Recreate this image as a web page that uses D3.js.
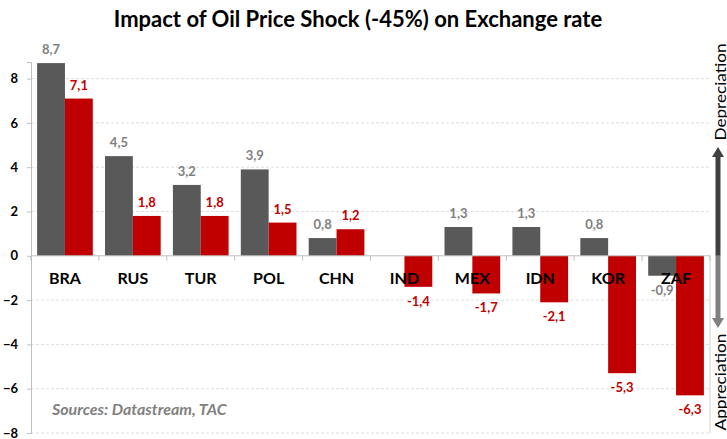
<!DOCTYPE html>
<html>
<head>
<meta charset="utf-8">
<script src="https://cdn.jsdelivr.net/npm/d3@7"></script>
<style>
  body { margin: 0; background: #fff; }
  svg { display: block; font-family: Lato, "Open Sans", sans-serif; }
</style>
</head>
<body>
<div id="chart"></div>
<script>
const countries = ["BRA", "RUS", "TUR", "POL", "CHN", "IND", "MEX", "IDN", "KOR", "ZAF"];
const grayValues = [8.7, 4.5, 3.2, 3.9, 0.8, 0, 1.3, 1.3, 0.8, -0.9];
const redValues = [7.1, 1.8, 1.8, 1.5, 1.2, -1.4, -1.7, -2.1, -5.3, -6.3];
const yTicks = [-8, -6, -4, -2, 0, 2, 4, 6, 8];

const width = 727, height = 439;
const plot = { left: 31, right: 710, top: 62, bottom: 433 };

const svg = d3.select("#chart").append("svg").attr("width", width).attr("height", height);

const x = d3.scaleBand().domain(countries).range([plot.left, plot.right]).paddingInner(0.18).paddingOuter(0.09);
const sub = d3.scaleBand().domain(["gray", "red"]).range([0, x.bandwidth()]);
const y = d3.scaleLinear().domain([-8, 8.75]).range([plot.bottom, plot.top]);

const fmt = v => String(v.toFixed(1)).replace(".", ",");

// gridlines
svg.append("g").selectAll("line").data(yTicks.filter(d => d !== 0)).join("line")
  .attr("x1", plot.left).attr("x2", plot.right)
  .attr("y1", d => y(d)).attr("y2", d => y(d))
  .attr("stroke", "#dedede").attr("stroke-dasharray", "3,2");

// left axis
const yAxis = svg.append("g").attr("transform", `translate(${plot.left},0)`)
  .call(d3.axisLeft(y).tickValues(yTicks).tickSize(4).tickFormat(d3.format("d")));
yAxis.select(".domain").attr("stroke", "#bfbfbf");
yAxis.selectAll(".tick line").attr("stroke", "#bfbfbf");
yAxis.selectAll(".tick text").attr("x", -13).attr("font-size", 13).attr("font-weight", "bold")
  .attr("fill", "#000").attr("font-family", "Lato, sans-serif");

// right border
svg.append("line").attr("x1", plot.right).attr("x2", plot.right)
  .attr("y1", y(0)).attr("y2", plot.bottom).attr("stroke", "#d0d0d0");

const groups = countries.map((c, i) => ({ c, g: grayValues[i], r: redValues[i] }));

// bars
const bar = (key, color) => svg.append("g").selectAll("rect").data(groups).join("rect")
  .attr("x", d => x(d.c) + sub(key))
  .attr("width", sub.bandwidth())
  .attr("y", d => y(Math.max(0, d[key[0]])))
  .attr("height", d => Math.abs(y(d[key[0]]) - y(0)))
  .attr("fill", color);
bar("gray", "#595959");
bar("red", "#c00000");

// zero line + category ticks
svg.append("line").attr("x1", plot.left).attr("x2", plot.right)
  .attr("y1", y(0)).attr("y2", y(0)).attr("stroke", "#bfbfbf");
const bounds = countries.map(c => x(c) - x.step() * x.paddingInner() / 2).concat([plot.right]);
svg.append("g").selectAll("line").data(bounds).join("line")
  .attr("x1", d => d).attr("x2", d => d)
  .attr("y1", y(0)).attr("y2", y(0) + 5).attr("stroke", "#bfbfbf");

// value labels
const label = (key, color) => svg.append("g").selectAll("text")
  .data(groups.filter(d => d[key[0]] !== 0)).join("text")
  .attr("x", d => x(d.c) + sub(key) + sub.bandwidth() / 2)
  .attr("y", d => d[key[0]] > 0 ? y(d[key[0]]) - 9 : y(d[key[0]]) + 19)
  .attr("text-anchor", "middle").attr("font-size", 13).attr("font-weight", "bold")
  .attr("fill", color).text(d => fmt(d[key[0]]));
label("gray", "#808080");
label("red", "#c00000");

// category labels
svg.append("g").selectAll("text").data(countries).join("text")
  .attr("x", d => x(d) + x.bandwidth() / 2).attr("y", y(0) + 28)
  .attr("text-anchor", "middle").attr("font-size", 16).attr("font-weight", "bold")
  .attr("fill", "#000").text(d => d);

// title
svg.append("text").attr("x", 358).attr("y", 27).attr("text-anchor", "middle")
  .attr("font-size", 22).attr("font-weight", "bold").attr("fill", "#000")
  .text("Impact of Oil Price Shock (-45%) on Exchange rate");

// source
svg.append("text").attr("x", 52).attr("y", 415)
  .attr("font-size", 16).attr("font-weight", "bold").attr("font-style", "italic")
  .attr("fill", "#808080").text("Sources: Datastream, TAC");

// direction arrow
const ax = 718;
svg.append("line").attr("x1", ax).attr("x2", ax).attr("y1", 155).attr("y2", y(0))
  .attr("stroke", "#404040").attr("stroke-width", 5);
svg.append("line").attr("x1", ax).attr("x2", ax).attr("y1", y(0)).attr("y2", 320)
  .attr("stroke", "#808080").attr("stroke-width", 5);
svg.append("path").attr("d", `M${ax - 6},157 L${ax},147 L${ax + 6},157 Z`).attr("fill", "#404040");
svg.append("path").attr("d", `M${ax - 6},318 L${ax},328 L${ax + 6},318 Z`).attr("fill", "#808080");
svg.append("text").attr("transform", `translate(${ax + 8},92) rotate(-90)`)
  .attr("text-anchor", "middle").attr("font-size", 16).attr("fill", "#000")
  .attr("textLength", 97).attr("lengthAdjust", "spacingAndGlyphs").text("Depreciation");
svg.append("text").attr("transform", `translate(${ax + 8},382) rotate(-90)`)
  .attr("text-anchor", "middle").attr("font-size", 16).attr("fill", "#000")
  .attr("textLength", 97).attr("lengthAdjust", "spacingAndGlyphs").text("Appreciation");
</script>
</body>
</html>
